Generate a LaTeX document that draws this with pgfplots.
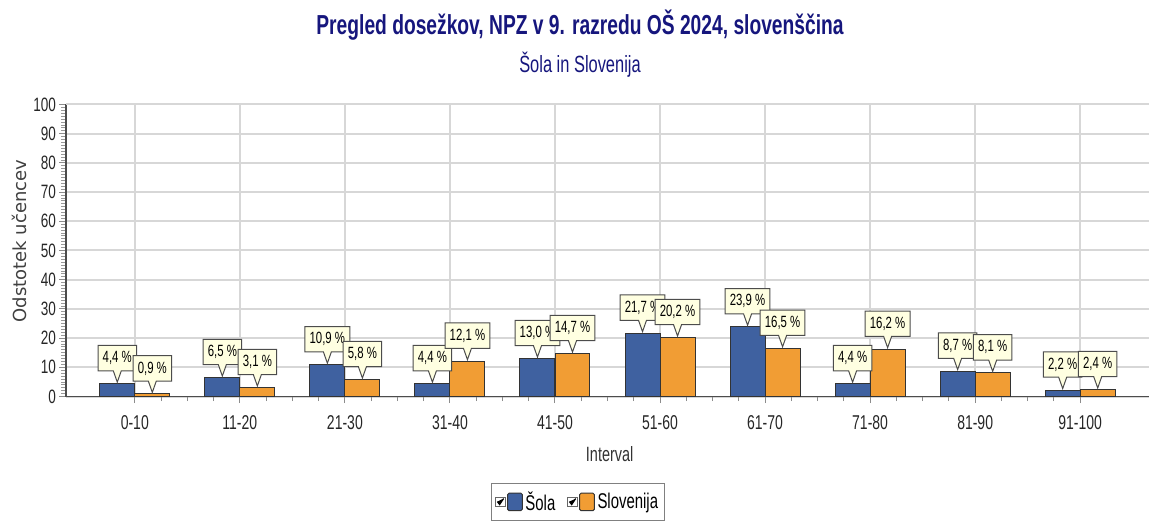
\documentclass[border=0pt]{standalone}
\usepackage{pgfplots}
\pgfplotsset{compat=1.18}
\usepackage{pgfplotstable}
\usepackage{fontspec}
\setmainfont{Liberation Sans}[FakeStretch=0.7]
\newfontfamily\dejavu{DejaVu Sans}
\usetikzlibrary{shapes.callouts}

\definecolor{sola}{RGB}{63,97,160}
\definecolor{slo}{RGB}{241,157,52}
\definecolor{navy}{RGB}{22,22,125}
\definecolor{callfill}{RGB}{255,255,225}
\definecolor{gridc}{RGB}{215,215,215}

\pgfplotstableread{
x sola slo
0 4.4 0.9
1 6.5 3.1
2 10.9 5.8
3 4.4 12.1
4 13.0 14.7
5 21.7 20.2
6 23.9 16.5
7 4.4 16.2
8 8.7 8.1
9 2.2 2.4
}\data

\begin{document}
\begin{tikzpicture}[x=0.75pt,y=0.75pt]
\useasboundingbox (0,0) rectangle (1149,521);

% titles
\node[font=\bfseries\fontsize{20.6}{24}\selectfont, text=navy] at (580,496)
  {Pregled dosežkov, NPZ v 9. razredu OŠ 2024, slovenščina};
\node[font=\fontsize{17.6}{20}\selectfont, text=navy] at (580,456)
  {Šola in Slovenija};
\node[font=\dejavu\fontsize{13.5}{15}\selectfont, text=black!75, rotate=90] at (19,280)
  {Odstotek učencev};

\begin{axis}[%
at={(49.5pt,93.375pt)}, anchor=south west,%
width=812.25pt, height=219pt, scale only axis,%
xmin=-0.655, xmax=9.655, ymin=0, ymax=100,%
axis x line*=bottom, axis y line*=left,%
axis line style={draw=black!70, line width=1pt},%
xtick=data,%
xticklabels={0-10,11-20,21-30,31-40,41-50,51-60,61-70,71-80,81-90,91-100},%
minor x tick num=3,%
ytick={0,10,...,100}, minor y tick num=9,%
xmajorgrids, ymajorgrids,%
major grid style={draw=gridc, line width=1.5pt},%
tick align=outside,%
major tick length=5pt, minor tick length=3.5pt,%
tick style={draw=black!45, line width=0.75pt},%
minor y tick style={draw=black!40, line width=0.6pt},%
extra y ticks={100}, extra y tick labels={},%
extra y tick style={grid style={draw=black!45, line width=1.75pt}, major tick length=0pt},%
ticklabel style={font=\fontsize{15}{18}\selectfont, text=black!85},%
yticklabel style={font=\fontsize{14.5}{16}\selectfont, xshift=1pt},%
xticklabel style={yshift=-6pt},%
/pgf/number format/assume math mode=true,%
xlabel={Interval},%
xlabel style={font=\fontsize{15.5}{18}\selectfont, text=black!80,
  at={(axis description cs:0.502,-0.197)}, anchor=center},%
ybar, bar width=0.333,%
nodes near coords={\pgfmathprintnumber[use comma,fixed,fixed zerofill,precision=1,assume math mode=true]{\pgfplotspointmeta}~\%},%
every node near coord/.append style={rectangle callout, fill=callfill,
  draw=black!70, line width=0.75pt, text=black,
  font=\fontsize{12.2}{14}\selectfont, inner xsep=3.5pt, inner ysep=0pt,
  minimum height=19pt, callout relative pointer={(0pt,-8.5pt)},
  callout pointer width=6pt, anchor=pointer},%
legend columns=2,%
legend style={at={(0.4728,-0.361)}, anchor=center, draw=black!50,
  line width=0.75pt, fill=white, font=\fontsize{16}{19}\selectfont,
  inner xsep=3pt, inner ysep=4pt,
  /tikz/every even column/.append style={column sep=7pt}},%
legend image code/.code={%
  \draw[draw=black!60, fill=white, line width=0.5pt] (0pt,-3.5pt) rectangle (7pt,3.5pt);
  \draw[black, line width=0.9pt] (1.3pt,0.2pt) -- (3pt,-2pt) -- (6pt,2.5pt);
  \draw[#1, rounded corners=1pt] (9pt,-6.5pt) rectangle (20pt,6.5pt);
},%
]

\addplot [draw=black!80, fill=sola, line width=0.75pt, bar shift=-0.1667]
  table [x=x, y=sola] {\data};
\addlegendentry{Šola}

\addplot [draw=black!80, fill=slo, line width=0.75pt, bar shift=0.1667]
  table [x=x, y=slo] {\data};
\addlegendentry{Slovenija}

\end{axis}
\end{tikzpicture}
\end{document}
